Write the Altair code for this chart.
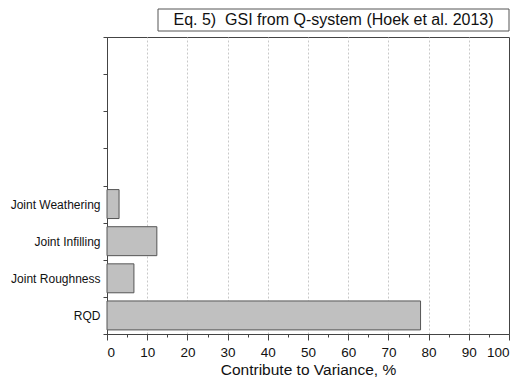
import altair as alt
import pandas as pd

# Data
factors = ["Joint Weathering", "Joint Infilling", "Joint Roughness", "RQD"]
contrib = [3.0, 12.4, 6.7, 78.0]
empty_slots = [" ", "  ", "   ", "    "]
title_text = ["Eq. 5)\u00a0 GSI from Q-system (Hoek et al. 2013)"]
x_ticks = list(range(0, 101, 5))

df = pd.DataFrame({"factor": factors, "value": contrib})
domain = empty_slots + factors

FONT = "Liberation Sans"

bars = alt.Chart(df).mark_bar(
    height={"band": 0.78}, color="#c0c0c0", stroke="#555555", strokeWidth=1
).encode(
    x=alt.X(
        "value:Q",
        scale=alt.Scale(domain=[0, 100], nice=False, zero=True),
        axis=alt.Axis(
            values=x_ticks,
            title="Contribute to Variance, %",
            titleFont=FONT, titleFontSize=15.5, titleFontWeight="normal",
            titleColor="#111", titlePadding=4,
            labelFont=FONT, labelFontSize=13.5, labelColor="#111",
            labelExpr="datum.value % 10 ? '' : datum.label",
            labelPadding=5,
            tickSize={"condition": {"test": "datum.value % 10 !== 0", "value": 3}, "value": 6},
            tickColor="#444", domainColor="#444",
            grid=True, gridColor="#c8c8c8", gridDash=[2, 2], gridWidth=1,
            gridOpacity={"condition": {"test": "datum.value % 10 !== 0 || datum.value === 0 || datum.value === 100", "value": 0}, "value": 1},
        ),
    ),
    y=alt.Y(
        "factor:N",
        scale=alt.Scale(domain=domain, paddingInner=0, paddingOuter=0),
        axis=alt.Axis(
            title=None, tickBand="extent", grid=False,
            labelFont=FONT, labelFontSize=12, labelColor="#111",
            tickSize=4, tickColor="#444", domainColor="#444", labelPadding=3,
        ),
    ),
)

tdf = pd.DataFrame({"t": title_text})
box = alt.Chart(tdf).mark_rect(fill="white", stroke="#555555", strokeWidth=1).encode(
    x=alt.value(51), x2=alt.value(402), y=alt.value(-28), y2=alt.value(-6)
)
ttl = alt.Chart(tdf).mark_text(
    font=FONT, fontSize=16, color="#111", align="center", baseline="middle"
).encode(x=alt.value(226.5), y=alt.value(-17), text="t:N")

chart = alt.layer(bars, box, ttl).properties(
    width=402, height=297,
    padding={"left": 107, "top": 37, "right": 11, "bottom": 49},
    autosize=alt.AutoSizeParams(type="none"),
    background="white",
).configure_view(stroke="#444444", strokeWidth=1)

chart.save("out.html", embed_options={"renderer": "svg", "actions": False})
